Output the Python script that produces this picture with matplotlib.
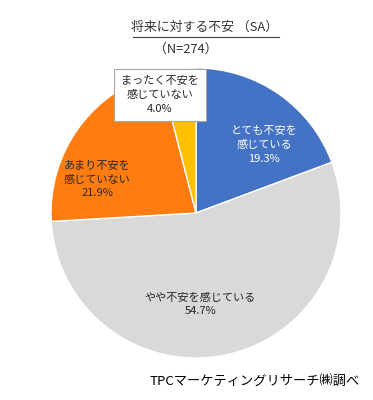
import matplotlib.pyplot as plt
from matplotlib.lines import Line2D

plt.rcParams['font.family'] = ['Noto Sans CJK JP', 'DejaVu Sans']

labels = ['とても不安を\n感じている', 'やや不安を感じている',
          'あまり不安を\n感じていない', 'まったく不安を\n感じていない']
shares = [19.3, 54.7, 21.9, 4.0]
colors = ['#4472C4', '#D9D9D9', '#FF7C10', '#FFC000']
text_colors = ['white', '#262626', '#262626', '#262626']
# label centres in pie units (radius = 1)
label_pos = [(0.47, 0.47), (0.03, -0.63), (-0.68, 0.23), (-0.25, 0.815)]

W, H = 373, 400
fig = plt.figure(figsize=(W / 100, H / 100), dpi=100)

cx, cy, r = 196, 213, 145
ax = fig.add_axes([(cx - r) / W, (H - cy - r) / H, 2 * r / W, 2 * r / H])
ax.pie(shares, colors=colors, startangle=90, counterclock=False, radius=1,
       wedgeprops=dict(edgecolor='white', linewidth=1))
ax.set_xlim(-1, 1)
ax.set_ylim(-1, 1)
ax.set_aspect('auto')
ax.axis('off')

for i, (lab, val) in enumerate(zip(labels, shares)):
    x, y = label_pos[i]
    txt = '%s\n%.1f%%' % (lab, val)
    if i == 3:
        ax.text(x, y, txt, ha='center', va='center', fontsize=8,
                color=text_colors[i], linespacing=1.45,
                bbox=dict(boxstyle='square,pad=0.65', fc='white',
                          ec='#A6A6A6', lw=0.8))
    else:
        ax.text(x, y, txt, ha='center', va='center', fontsize=8,
                color=text_colors[i], linespacing=1.45)

fig.text(205 / W, 1 - 27 / H, '将来に対する不安 （SA）', ha='center', va='center',
         fontsize=9.3, color='#333333')
fig.add_artist(Line2D([133 / W, 279 / W], [1 - 37 / H, 1 - 37 / H],
                      color='#404040', lw=0.8))
fig.text(186 / W, 1 - 49 / H, '（N=274）', ha='center', va='center',
         fontsize=9.3, color='#333333')
fig.text(360 / W, 1 - 382 / H, 'TPCマーケティングリサーチ㈱調べ', ha='right',
         va='center', fontsize=9.5, color='black')

fig.savefig('out.png', dpi=100)
